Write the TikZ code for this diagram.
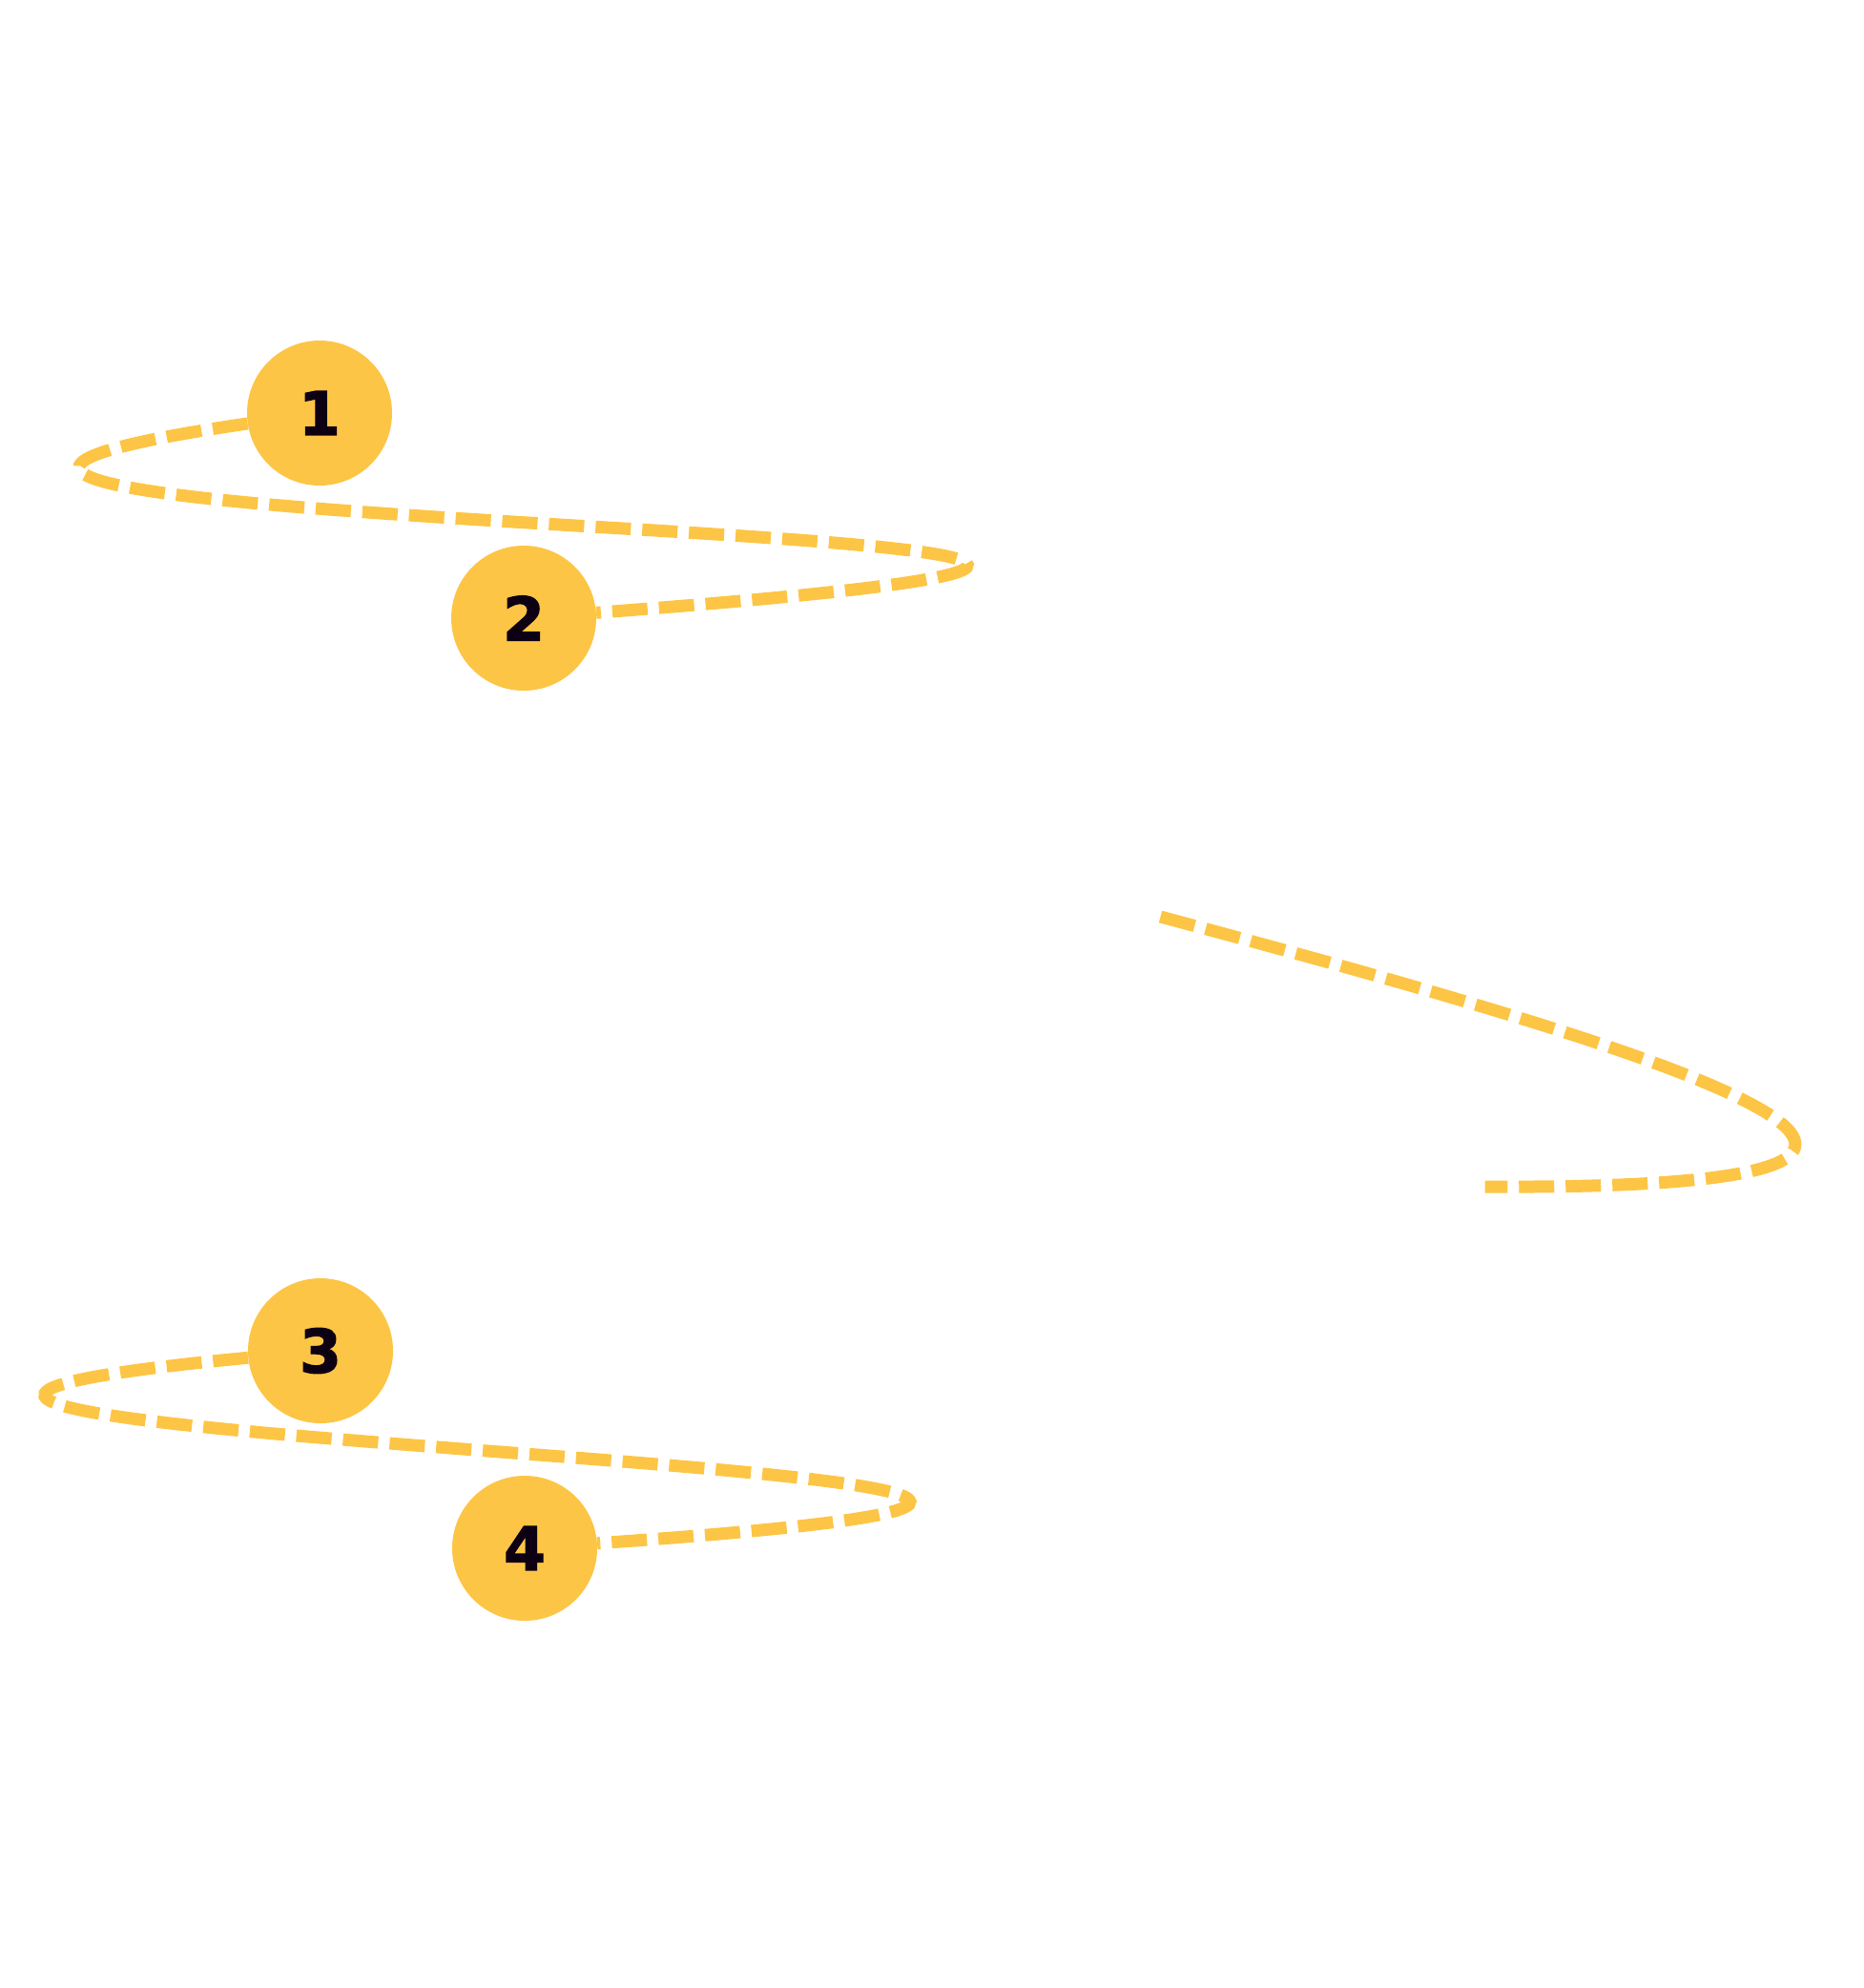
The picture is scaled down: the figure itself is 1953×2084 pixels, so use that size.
\documentclass[tikz,border=0pt]{standalone}
\usepackage{fontspec}
\setmainfont{DejaVu Sans}
\newfontfamily\digitfont{DejaVu Sans}[UprightFont={* Bold},FakeBold=2]
\definecolor{dotyellow}{HTML}{FDC545}
\definecolor{digitink}{HTML}{0D0012}
\begin{document}
\begin{tikzpicture}[x=1pt,y=-1pt,
  numdot/.style={circle,fill=dotyellow,draw=none,inner sep=0pt,minimum size=152pt,
    text=digitink,font=\fontsize{63}{63}\selectfont\digitfont},
  trail/.style={draw=dotyellow,line width=13pt,dash pattern=on 37pt off 12pt}]
\useasboundingbox (0,0) rectangle (1953,2084);

% numbered stops
\node[numdot] (n1) at (335,433) {1};
\node[numdot] (n2) at (549,648) {2};
\node[numdot] (n3) at (336,1416) {3};
\node[numdot] (n4) at (550,1623) {4};

% loose ends of the middle trail
\coordinate (m1) at (1216.5,961);
\coordinate (m2) at (1556.7,1244);

% looping dashed trails
\draw[trail] (n1) .. controls (-585,567) and (1945,543) .. (n2);
\draw[trail] (n3) .. controls (-670,1512) and (1812,1536) .. (n4);
\draw[trail] (m1) .. controls (1700,1090) and (2245,1248) .. (m2);
\end{tikzpicture}
\end{document}
